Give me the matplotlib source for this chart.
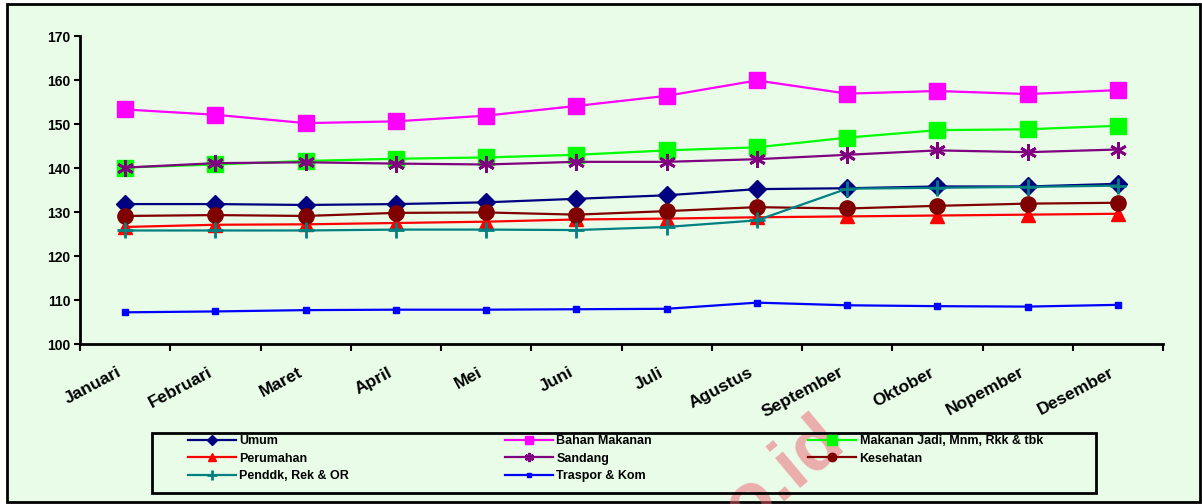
import numpy as np
import matplotlib
matplotlib.use("Agg")
import matplotlib.pyplot as plt
import matplotlib.transforms as mtransforms
from matplotlib.patches import Rectangle

plt.rcParams["font.family"] = ["Liberation Sans", "DejaVu Sans"]
plt.rcParams["font.weight"] = "bold"

# Data
months = ["Januari", "Februari", "Maret", "April", "Mei", "Juni", "Juli",
          "Agustus", "September", "Oktober", "Nopember", "Desember"]
umum = [131.8, 131.8, 131.6, 131.8, 132.2, 133.0, 133.8, 135.2, 135.4, 135.8, 135.8, 136.4]
bahan_makanan = [153.3, 152.1, 150.2, 150.6, 151.9, 154.1, 156.4, 159.9, 156.9, 157.5, 156.8, 157.7]
makanan_jadi = [140.1, 140.8, 141.6, 142.1, 142.4, 143.0, 144.0, 144.7, 146.9, 148.6, 148.8, 149.6]
perumahan = [126.6, 127.1, 127.2, 127.5, 127.8, 128.3, 128.5, 128.8, 129.0, 129.2, 129.4, 129.6]
sandang = [140.1, 141.1, 141.3, 141.0, 140.8, 141.4, 141.4, 142.0, 143.0, 144.0, 143.6, 144.2]
kesehatan = [129.1, 129.3, 129.1, 129.8, 129.9, 129.4, 130.2, 131.1, 130.8, 131.4, 131.9, 132.1]
penddk = [125.8, 125.8, 125.8, 126.0, 126.0, 125.9, 126.6, 128.1, 135.3, 135.5, 135.7, 136.0]
traspor = [107.2, 107.4, 107.7, 107.8, 107.8, 107.9, 108.0, 109.4, 108.8, 108.6, 108.5, 108.9]

W, H = 1202, 504
fig = plt.figure(figsize=(W / 100, H / 100), dpi=100)
fig.patch.set_facecolor("white")

# chart area background with black border
fig.patches.append(Rectangle((7 / W, 1 - 502 / H), 1193 / W, 498 / H,
                             facecolor="#E8FCE8", edgecolor="black", lw=2,
                             transform=fig.transFigure, zorder=-5))

ax = fig.add_axes([80 / W, 1 - 344 / H, (1163 - 80) / W, (344 - 36) / H])
ax.set_facecolor("none")

x = np.arange(len(months)) + 0.5
lw = 1.6
h_umum, = ax.plot(x, umum, color="#000080", lw=lw, marker="D", ms=9, mec="#000080", label="Umum")
h_bahan, = ax.plot(x, bahan_makanan, color="#FF00FF", lw=lw, marker="s", ms=11, mec="#FF00FF", label="Bahan Makanan")
h_jadi, = ax.plot(x, makanan_jadi, color="#00FF00", lw=lw, marker="s", ms=12, mec="#00FF00", label="Makanan Jadi, Mnm, Rkk & tbk")
h_rumah, = ax.plot(x, perumahan, color="#FF0000", lw=lw, marker="^", ms=10, mec="#FF0000", label="Perumahan")
h_sandang, = ax.plot(x, sandang, color="#800080", lw=lw, marker=(6, 2, 0), ms=12, mew=2, mec="#800080", label="Sandang")
h_sehat, = ax.plot(x, kesehatan, color="#800000", lw=lw, marker="o", ms=11, mec="#800000", label="Kesehatan")
h_didik, = ax.plot(x, penddk, color="#008080", lw=lw, marker="+", ms=12, mew=2, mec="#008080", label="Penddk, Rek & OR")
h_trans, = ax.plot(x, traspor, color="#0000FF", lw=lw, marker="s", ms=4, mec="#0000FF", label="Traspor & Kom")

ax.set_xlim(0, 12)
ax.set_ylim(100, 170)
ax.set_yticks(range(100, 171, 10))
ax.tick_params(axis="y", direction="out", length=4, width=1.5, labelsize=10, pad=3)

ax.set_xticks(range(13))
ax.set_xticklabels([])
ax.set_xticks(x, minor=True)
ax.set_xticklabels(months, minor=True, rotation=28, ha="right", va="top",
                   rotation_mode="anchor", fontsize=12.5)
ax.tick_params(axis="x", which="major", direction="out", length=5, width=1.5)
ax.tick_params(axis="x", which="minor", length=0, pad=15)
shift = mtransforms.ScaledTranslation(-0.08, 0, fig.dpi_scale_trans)
for lbl in ax.get_xticklabels(minor=True):
    lbl.set_transform(lbl.get_transform() + shift)

for s in ["top", "right"]:
    ax.spines[s].set_visible(False)
for s in ["left", "bottom"]:
    ax.spines[s].set_linewidth(2)

# legend, column-wise order to get Excel's row layout
handles = [h_umum, h_rumah, h_didik, h_bahan, h_sandang, h_trans, h_jadi, h_sehat]
fig.legend(handles=handles, labels=[h.get_label() for h in handles], ncol=3,
           loc="upper left", bbox_to_anchor=(188 / W, 1 - 435 / H),
           frameon=False, borderpad=0, borderaxespad=0, fontsize=9,
           handlelength=3.8, handletextpad=0.3, columnspacing=12.5,
           labelspacing=0.45, markerscale=0.55)
fig.patches.append(Rectangle((152 / W, 1 - 493 / H), 944 / W, 60 / H,
                             fill=False, edgecolor="black", lw=2,
                             transform=fig.transFigure, zorder=3))

# watermark (only its visible tail)
fig.text(812 / W, 1 - 405 / H, "o.id", rotation=40, ha="right", va="top",
         rotation_mode="anchor", fontsize=54, color="#EE6070", alpha=0.5, zorder=2)

fig.savefig("out.png", dpi=100)
